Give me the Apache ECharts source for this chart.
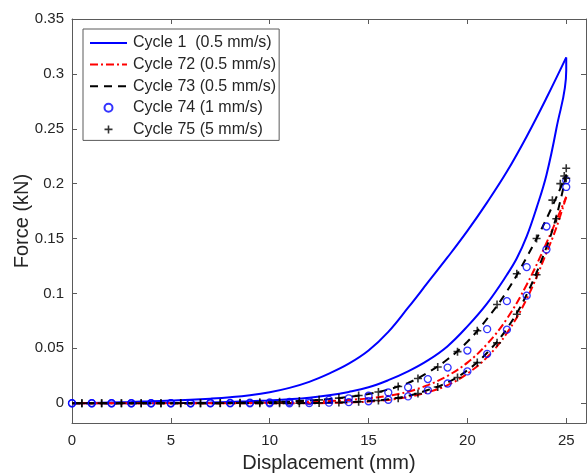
<!DOCTYPE html>
<html>
<head>
<meta charset="utf-8">
<script src="https://cdn.jsdelivr.net/npm/echarts@6/dist/echarts.min.js"></script>
<style>
html,body{margin:0;padding:0;background:#fff;}
#chart{width:587px;height:475px;}
</style>
</head>
<body>
<div id="chart"></div>
<script>
// ---- data ----
var xTicks = [0, 5, 10, 15, 20, 25];
var yTicks = [0, 0.05, 0.1, 0.15, 0.2, 0.25, 0.3, 0.35];
var legendNames = ['Cycle 1  (0.5 mm/s)', 'Cycle 72 (0.5 mm/s)', 'Cycle 73 (0.5 mm/s)', 'Cycle 74 (1 mm/s)', 'Cycle 75 (5 mm/s)'];

// Cycle 1 loading
var c1LoadX = [0,1,2,3,4,5,6,7,8,9,10,11,12,13,14,15,16,17,18,19,20,21,22,23,24,25];
var c1LoadY = [0,0.0003,0.0007,0.0012,0.0018,0.0025,0.0032,0.0042,0.0055,0.0073,0.0100,0.014,0.0195,0.027,0.036,0.048,0.065,0.087,0.110,0.133,0.157,0.183,0.211,0.243,0.278,0.315];
// Cycle 1 unloading
var c1UnX = [25,25,24.5,24,23.5,23,22.5,22,21,20,19,18,17,16,15,14,13,12,11,10,9,8,7,6,5,4,3,2,1,0];
var c1UnY = [0.315,0.303,0.250,0.208,0.178,0.152,0.132,0.117,0.091,0.070,0.052,0.039,0.029,0.021,0.0145,0.0103,0.0072,0.005,0.0036,0.0026,0.0018,0.0012,0.0007,0.0004,0.0002,0.0001,0,0,0,0];

// Cycle 72
var c72LoadX = [0,1,2,3,4,5,6,7,8,9,10,11,12,13,14,15,16,17,18,19,20,21,22,23,24,25];
var c72LoadY = [0,0,0,0,0,0,0,0,0,0.0003,0.0005,0.0008,0.0013,0.002,0.003,0.0045,0.0068,0.0105,0.0165,0.025,0.037,0.054,0.077,0.108,0.146,0.188];
var c72UnX = [25,24.5,24,23,22,21,20,19,18,17,16,15,14,13,12,11,10,9,8,7,6,5,4,3,2,1,0];
var c72UnY = [0.188,0.160,0.137,0.095,0.064,0.042,0.027,0.0165,0.010,0.0058,0.003,0.0015,0.0007,0.0003,0,0,0,0,0,0,0,0,0,0,0,0,0];

// Cycle 73
var c73LoadX = [0,1,2,3,4,5,6,7,8,9,10,11,12,13,14,15,16,17,18,19,20,21,22,23,24,25];
var c73LoadY = [0,0,0,0,0,0,0,0,0.0003,0.0006,0.001,0.0016,0.0025,0.0038,0.0058,0.0085,0.0125,0.0185,0.028,0.040,0.056,0.077,0.102,0.133,0.168,0.208];
var c73UnX = [25,24.5,24,23,22,21,20,19,18,17,16,15,14,13,12,11,10,9,8,7,6,5,4,3,2,1,0];
var c73UnY = [0.208,0.170,0.142,0.099,0.068,0.046,0.030,0.019,0.012,0.0068,0.0036,0.002,0.001,0.0005,0.0002,0,0,0,0,0,0,0,0,0,0,0,0];

// Cycle 74 (circles)
var c74LoadX = [0,1,2,3,4,5,6,7,8,9,10,11,12,13,14,15,16,17,18,19,20,21,22,23,24,25];
var c74LoadY = [0,0,0,0,0,0,0,0.0002,0.0003,0.0005,0.0008,0.0013,0.002,0.003,0.0045,0.0068,0.0098,0.0145,0.022,0.0325,0.048,0.0675,0.093,0.124,0.161,0.203];
var c74UnX = [25,24,23,22,21,20,19,18,17,16,15,14,13,12,11,10,9,8,7,6,5,4,3,2,1,0];
var c74UnY = [0.197,0.140,0.098,0.067,0.045,0.029,0.018,0.0118,0.0062,0.0032,0.0018,0.001,0.0005,0.0002,0,0,0,0,0,0,0,0,0,0,0,0];

// Cycle 75 (plus)
var c75LoadX = [0.5,1.5,2.5,3.5,4.5,5.5,6.5,7.5,8.5,9.5,10.5,11.5,12.5,13.5,14.5,15.5,16.5,17.5,18.5,19.5,20.5,21.5,22.5,23.5,24.3,24.7,24.9,25];
var c75LoadY = [0,0,0,0,0,0,0,0.0002,0.0004,0.0008,0.0013,0.002,0.0031,0.0047,0.007,0.0103,0.0152,0.0225,0.033,0.047,0.066,0.090,0.118,0.150,0.185,0.200,0.207,0.214];
var c75UnX = [25,24.5,23.5,22.5,21.5,20.5,19.5,18.5,17.5,16.5,15.5,14.5,13.5,12.5,11.5,10.5,9.5,8.5,7.5,6.5,5.5,4.5,3.5,2.5,1.5,0.5];
var c75UnY = [0.205,0.168,0.117,0.081,0.055,0.037,0.0235,0.0148,0.0088,0.0046,0.0025,0.0014,0.0007,0.0003,0,0,0,0,0,0,0,0,0,0,0,0];

function zip(xs, ys){ var out=[]; for(var i=0;i<xs.length;i++){ out.push([xs[i], ys[i]]); } return out; }

var BLUE='#0000FF', RED='#FF0000', BLACK='#000000', AX='#5a5a5a', TXT='#262626';
var plusPath = 'path://M4,0h2v4h4v2h-4v4h-2v-4h-4v-2h4z';

function lineSeries(name, data, color, type){
  return {name:name, type:'line', data:data, symbol:'none', smooth:0.4,
    lineStyle:{color:color, width:2, type:type}, itemStyle:{color:color, opacity:0}, z:2, animation:false};
}

var series = [
  lineSeries(legendNames[0], zip(c1LoadX,c1LoadY), BLUE, 'solid'),
  lineSeries(legendNames[0], zip(c1UnX,c1UnY), BLUE, 'solid'),
  lineSeries(legendNames[1], zip(c72LoadX,c72LoadY), RED, [8,3,2,3]),
  lineSeries(legendNames[1], zip(c72UnX,c72UnY), RED, [8,3,2,3]),
  lineSeries(legendNames[2], zip(c73LoadX,c73LoadY), BLACK, [8,6]),
  lineSeries(legendNames[2], zip(c73UnX,c73UnY), BLACK, [8,6]),
  {name:legendNames[3], type:'scatter', data:zip(c74LoadX,c74LoadY).concat(zip(c74UnX,c74UnY)),
    symbol:'circle', symbolSize:7, itemStyle:{color:'rgba(0,0,0,0)', borderColor:BLUE, borderWidth:1.3}, z:3, animation:false},
  {name:legendNames[4], type:'scatter', data:zip(c75LoadX,c75LoadY).concat(zip(c75UnX,c75UnY)),
    symbol:plusPath, symbolSize:8, itemStyle:{color:BLACK}, z:4, animation:false}
];

var chart = echarts.init(document.getElementById('chart'), null, {renderer:'canvas'});
var font = '"Liberation Sans", Arial, Helvetica, sans-serif';
var baseAxis = {
  axisLine:{show:true, onZero:false, lineStyle:{color:AX, width:1}},
  splitLine:{show:false}
};
var option = {
  backgroundColor:'#fff',
  animation:false,
  textStyle:{fontFamily:font},
  grid:{left:72, right:1, top:19, bottom:52, containLabel:false, outerBoundsMode:'none'},
  legend:{
    data:legendNames, orient:'vertical', left:83, top:29,
    backgroundColor:'#fff', borderColor:AX, borderWidth:1, borderRadius:0,
    padding:[6,3,3,6], itemGap:5.6, itemWidth:37, itemHeight:8,
    textStyle:{fontFamily:font, fontSize:16, color:TXT, padding:[0,0,0,1]},
    selectedMode:false
  },
  xAxis:[
    Object.assign({}, baseAxis, {type:'value', position:'bottom', min:0, max:26,
      axisTick:{show:true, inside:true, length:5, lineStyle:{color:AX}, customValues:xTicks},
      axisLabel:{show:true, margin:10, fontSize:15, color:TXT, fontFamily:font, customValues:xTicks},
      name:'Displacement (mm)', nameLocation:'middle', nameGap:30, nameMoveOverlap:false,
      nameTextStyle:{fontSize:20, color:TXT, fontFamily:font}}),
    Object.assign({}, baseAxis, {type:'value', position:'top', min:0, max:26,
      axisTick:{show:true, inside:true, length:5, lineStyle:{color:AX}, customValues:xTicks},
      axisLabel:{show:false, customValues:xTicks}})
  ],
  yAxis:[
    Object.assign({}, baseAxis, {type:'value', position:'left', min:-0.018, max:0.35,
      axisTick:{show:true, inside:true, length:5, lineStyle:{color:AX}, customValues:yTicks},
      axisLabel:{show:true, margin:8, fontSize:15, color:TXT, fontFamily:font, customValues:yTicks,
        formatter:function(v){ return String(Math.round(v*1000)/1000); }},
      name:'Force (kN)', nameLocation:'middle', nameGap:40, nameMoveOverlap:false,
      nameTextStyle:{fontSize:20, color:TXT, fontFamily:font}}),
    Object.assign({}, baseAxis, {type:'value', position:'right', min:-0.018, max:0.35,
      axisTick:{show:true, inside:true, length:5, lineStyle:{color:AX}, customValues:yTicks},
      axisLabel:{show:false, customValues:yTicks}})
  ],
  series: series
};
chart.setOption(option);
</script>
</body>
</html>
